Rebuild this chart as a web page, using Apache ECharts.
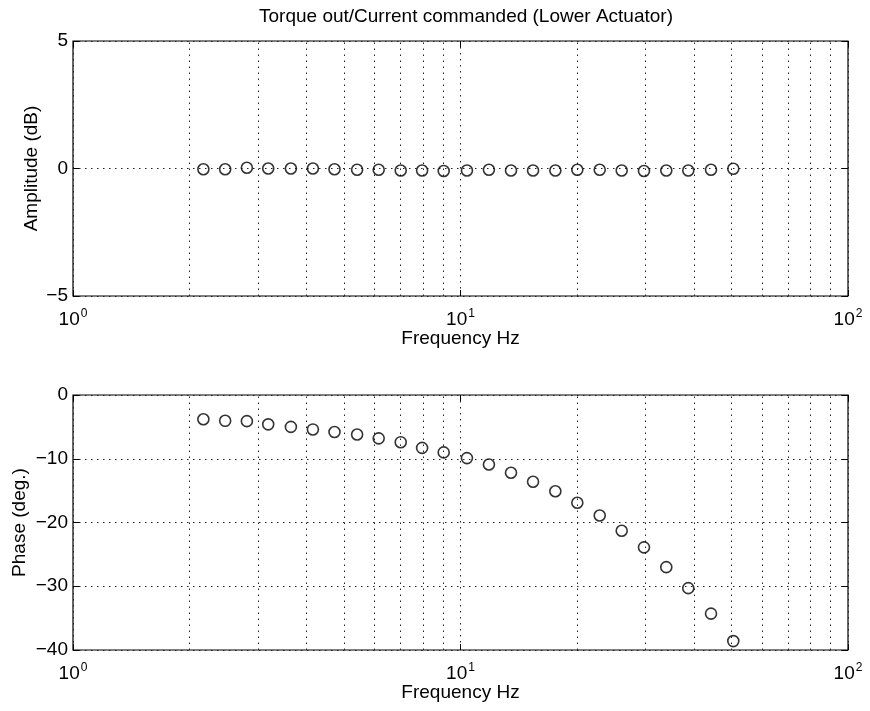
<!DOCTYPE html>
<html>
<head>
<meta charset="utf-8">
<script src="https://cdn.jsdelivr.net/npm/echarts@6/dist/echarts.min.js"></script>
<style>html,body{margin:0;padding:0;background:#fff;}#c{width:870px;height:711px;}</style>
</head>
<body>
<div id="c"></div>
<script>
const freq = [2.17,2.47,2.81,3.19,3.65,4.16,4.73,5.41,6.15,7.01,7.96,9.05,10.39,11.84,13.50,15.39,17.57,20.02,22.87,26.06,29.75,33.97,38.71,44.31,50.58];
const amplitude = [-0.03,-0.03,0.03,0.0,0.0,0.0,-0.03,-0.05,-0.05,-0.08,-0.08,-0.1,-0.08,-0.05,-0.08,-0.08,-0.08,-0.05,-0.05,-0.08,-0.1,-0.08,-0.08,-0.05,-0.01];
const phase = [-3.8,-4.05,-4.1,-4.6,-5.0,-5.4,-5.8,-6.2,-6.8,-7.4,-8.3,-9.0,-9.9,-10.9,-12.2,-13.6,-15.1,-16.9,-18.9,-21.3,-23.9,-27.0,-30.3,-34.3,-38.6];
const minorGrid = [2,3,4,5,6,7,8,9,20,30,40,50,60,70,80,90];
const ampTicks = {min:-5, max:5, interval:5};
const phaseTicks = {min:-40, max:0, interval:10};
const titleText = 'Torque out/Current commanded (Lower Actuator)';

const FONT = 'Liberation Sans, Arial, Helvetica, sans-serif';
const dotted = {color:'#222', width:1, type:[1.5,4.5]};
const minus = v => String(v).replace('-', '\u2212');

function xAxisFor(gi){
  return [{
    type:'log', logBase:10, min:1, max:100, gridIndex:gi,
    name:'Frequency Hz', nameLocation:'middle', nameGap:33, nameMoveOverlap:false,
    nameTextStyle:{fontFamily:FONT, fontSize:19, color:'#000'},
    axisLine:{show:false, onZero:false},
    axisTick:{show:true, inside:true, length:6, lineStyle:{color:'#000'}},
    splitLine:{show:true, lineStyle:dotted},
    axisLabel:{fontFamily:FONT, fontSize:19, color:'#000', margin:12,
      formatter: v => '{b|10}{s|' + Math.round(Math.log10(v)) + '}',
      rich:{
        b:{fontSize:19, fontFamily:FONT, color:'#000'},
        s:{fontSize:12, fontFamily:FONT, color:'#000', verticalAlign:'top', padding:[0,0,12,1]}}}
  },{
    type:'log', logBase:10, min:1, max:100, gridIndex:gi, position:'top',
    axisLine:{show:false, onZero:false}, axisLabel:{show:false}, splitLine:{show:false},
    axisTick:{show:true, inside:true, length:6, lineStyle:{color:'#000'}}
  }];
}
function yAxisFor(gi, t, name, gap){
  return [{
    type:'value', gridIndex:gi, min:t.min, max:t.max, interval:t.interval,
    name:name, nameLocation:'middle', nameGap:gap, nameMoveOverlap:false,
    nameTextStyle:{fontFamily:FONT, fontSize:19, color:'#000'},
    axisLine:{show:false, onZero:false},
    axisTick:{show:true, inside:true, length:6, lineStyle:{color:'#000'}},
    splitLine:{show:true, lineStyle:dotted},
    axisLabel:{fontFamily:FONT, fontSize:19, color:'#000', margin:5, formatter:minus}
  },{
    type:'value', gridIndex:gi, min:t.min, max:t.max, interval:t.interval, position:'right',
    axisLine:{show:false, onZero:false}, axisLabel:{show:false}, splitLine:{show:false},
    axisTick:{show:true, inside:true, length:6, lineStyle:{color:'#000'}}
  }];
}
function scatterSeries(gi, ys){
  return {
    type:'scatter', xAxisIndex:gi*2, yAxisIndex:gi*2,
    data: freq.map((f,i)=>[f, ys[i]]),
    symbol:'circle', symbolSize:11,
    itemStyle:{color:'rgba(255,255,255,0)', borderColor:'#000', borderWidth:1.6},
    silent:true, z:5,
    markLine:{silent:true, symbol:'none', label:{show:false},
      lineStyle:dotted, animation:false,
      data: minorGrid.map(v=>({xAxis:v}))}
  };
}

const chart = echarts.init(document.getElementById('c'), null, {renderer:'canvas'});
chart.setOption({
  animation:false,
  backgroundColor:'#fff',
  title:{text:titleText, left:461, top:2, textAlign:'center',
    textStyle:{fontFamily:FONT, fontSize:19, fontWeight:'normal', color:'#000'}},
  grid:[
    {left:73, top:41, width:775, height:255, show:true, borderColor:'#000', borderWidth:1.2, backgroundColor:'transparent'},
    {left:73, top:395, width:775, height:255, show:true, borderColor:'#000', borderWidth:1.2, backgroundColor:'transparent'}
  ],
  xAxis:[...xAxisFor(0), ...xAxisFor(1)],
  yAxis:[...yAxisFor(0, ampTicks, 'Amplitude (dB)', 32), ...yAxisFor(1, phaseTicks, 'Phase (deg.)', 44)],
  series:[scatterSeries(0, amplitude), scatterSeries(1, phase)]
});
</script>
</body>
</html>
